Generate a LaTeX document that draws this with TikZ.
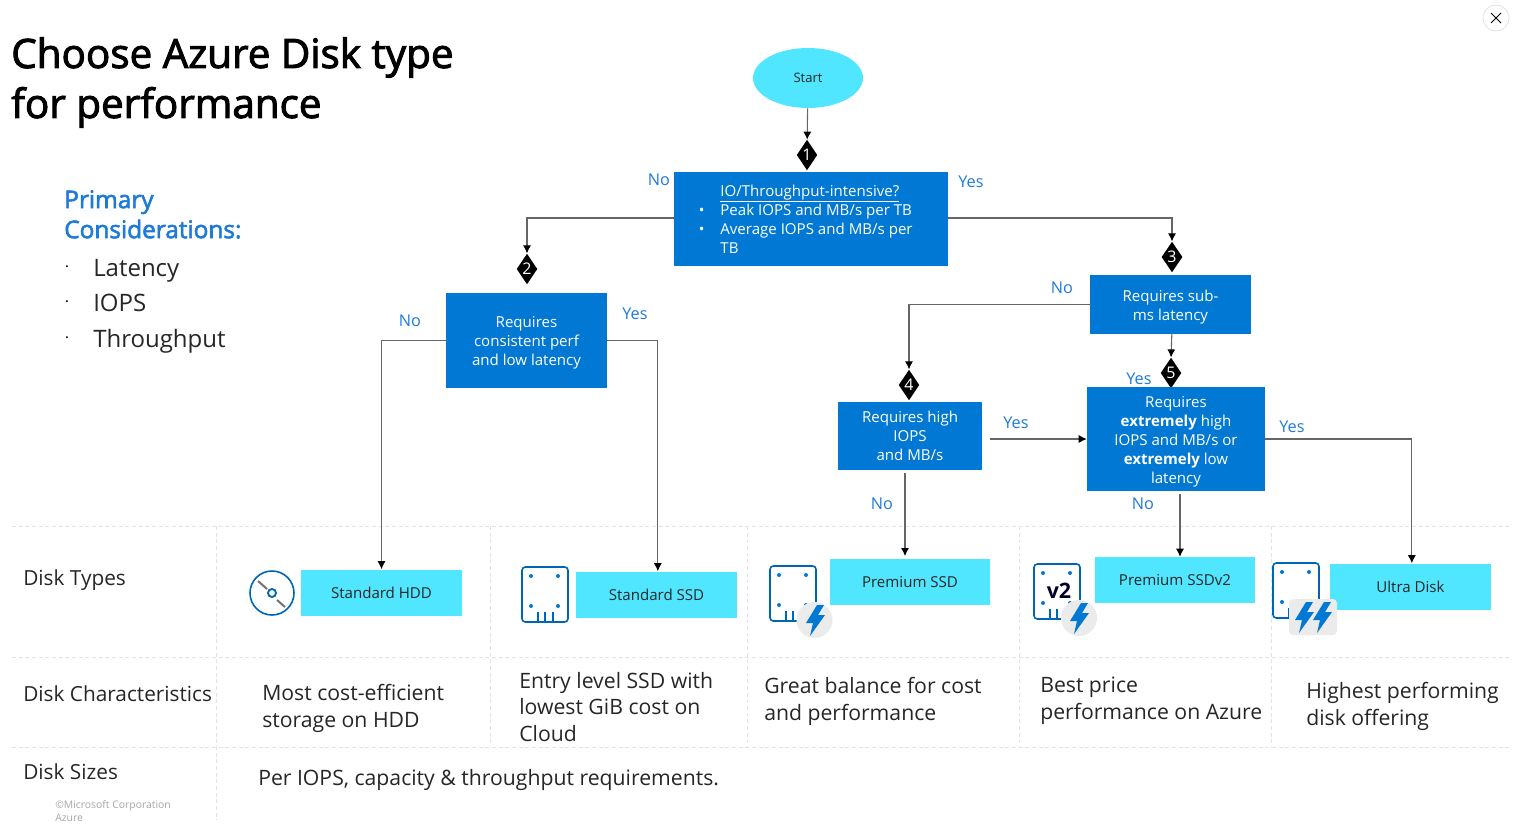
\documentclass[tikz,border=0pt]{standalone}
\usepackage{fontspec}
\setmainfont{Open Sans}
\newfontfamily\semifont[FakeBold=2.4]{Open Sans}
\usetikzlibrary{shapes.geometric,arrows.meta}
\definecolor{azblue}{HTML}{0078D4}
\definecolor{azcyan}{HTML}{50E6FF}
\definecolor{lblblue}{HTML}{1E7AD8}
\definecolor{sepgray}{HTML}{E3E3E3}
\newcommand{\fs}[2]{\fontsize{#1}{#2}\selectfont}
\newcommand{\qplain}[1]{\hspace*{8.25pt}#1}
\newcommand{\qitem}[1]{\hspace*{8.25pt}\llap{\textbullet\hspace{12pt}}#1}
\newcommand{\qtop}{\rule{0pt}{12pt}}
\tikzset{
    qbox/.style={fill=azblue,text=white,align=center,inner sep=0pt,font=\fs{11.3}{14.25}},
    tbox/.style={fill=azcyan,text=black!85,align=center,inner sep=0pt,minimum width=120.5pt,minimum height=34.5pt,font=\fs{11.3}{14}},
    dia/.style={diamond,fill=black,text=white,inner sep=0pt,minimum width=15pt,minimum height=23pt,font=\fs{12}{12}},
    yn/.style={text=lblblue,inner sep=0pt,font=\fs{12.2}{14}},
    big/.style={anchor=west,inner sep=0pt,align=left,text=black!85,font=\fs{15.9}{20.2}},
    lbl/.style={big,font=\fs{15.6}{20}},
    flow/.style={draw=black!60,line width=0.8pt,-{Latex[color=black,length=6pt,width=6pt]}},
    sep/.style={draw=sepgray,line width=0.6pt,densely dashed},
    icon/.style={draw=azblue!85!black,line width=1.2pt},
    ssdicon/.pic={
        \draw[icon,rounded corners=2.5pt] (0,0) rectangle (46,55);
        \foreach \px/\py in {9/9,36/9,9/39,36/39}
            \fill[azblue] (\px,\py) circle (2);
        \foreach \px in {16,23,31}
            \draw[icon,line width=0.9pt] (\px,45) -- (\px,55);
    },
    boltshape/.pic={
        \fill[azblue] (2,-15) -- (-9,3) -- (-2,3) -- (-5,16) -- (10,-5) -- (3,-5) -- (9,-15) -- cycle;
    },
}
\begin{document}
\begin{tikzpicture}[x=0.75pt,y=-0.75pt]
    \useasboundingbox (0,0) rectangle (1513,831);
    \node[anchor=north west,inner sep=0pt,align=left,font=\semifont\fs{30.3}{37.5},text=black] (title) at (11,37) {Choose Azure Disk type\\for performance};
    \node[anchor=north west,inner sep=0pt,align=left,font=\semifont\fs{18.3}{22.5},text=lblblue] (primary) at (64,190) {Primary\\Considerations:};
    \foreach \nm/\txt/\y in {lat/Latency/276,iops/IOPS/311,thr/Throughput/347} {
        \node[anchor=base west,inner sep=0pt,text=black!85,font=\fs{18}{22}] (\nm) at (93,\y) {\txt};
        \node[inner sep=0pt,font=\fs{14}{14}] (dot\nm) at (67,\y-9) {$\cdot$};
    }
    \draw[draw=black!15,fill=white] (1496,18) circle (13);
    \draw[black,line width=0.7pt] (1491,13) -- (1501,23) (1501,13) -- (1491,23);

    \foreach \y in {526,657,747}
        \draw[sep] (12,\y) -- (1510,\y);
    \draw[sep] (216,526) -- (216,820);
    \foreach \x in {490,747,1019,1271}
        \draw[sep] (\x,526) -- (\x,747);

    \node[ellipse,fill=azcyan,minimum width=82.5pt,minimum height=45pt,inner sep=0pt,text=black!85,font=\fs{9.8}{12}] (start) at (808,78) {Start};
    \foreach \n/\x/\y in {1/807/155,2/527/269,3/1172/257,4/909/385,5/1171/373}
        \node[dia] (d\n) at (\x,\y) {\n};

    \node[qbox,align=left,minimum width=205.5pt,minimum height=70.5pt] (q1) at (811,219) {\qplain{\underline{IO/Throughput-intensive?}}\\\qitem{Peak IOPS and MB/s per TB}\\\qitem{Average IOPS and MB/s per}\\\qplain{TB}};
    \node[qbox,minimum width=120.5pt,minimum height=71pt] (q2) at (526.5,340.5) {\qtop Requires\\consistent perf\\and low latency};
    \node[qbox,minimum width=120.5pt,minimum height=44pt] (q3) at (1170.5,304.5) {\qtop Requires sub-\\ms latency};
    \node[qbox,minimum width=108pt,minimum height=51pt] (q4) at (910,436) {Requires high\\IOPS\\and MB/s};
    \node[qbox,minimum width=133.5pt,minimum height=78pt] (q5) at (1176,439) {\qtop Requires\\\textbf{extremely} high\\IOPS and MB/s or\\\textbf{extremely} low\\latency};

    \node[tbox] (hdd) at (381.5,592.5) {Standard HDD};
    \node[tbox] (ssd) at (656.5,594.5) {Standard SSD};
    \node[tbox] (prem) at (910,582) {Premium SSD};
    \node[tbox] (pv2) at (1175,580) {Premium SSDv2};
    \node[tbox] (ultra) at (1410.5,586.5) {Ultra Disk};

    \draw[flow] (start) -- (d1);
    \draw[flow] ([yshift=0.75pt]q1.west) -| (d2.north);
    \draw[flow] ([yshift=0.75pt]q1.east) -| (d3.north);
    \draw[flow] (q3.west) -| (d4.north);
    \draw[flow] ([xshift=1pt]q3.south) -- (d5.north);
    \draw[flow] (q2.west) -| (hdd.north);
    \draw[flow] (q2.east) -| ([xshift=1pt]ssd.north);
    \draw[flow] ([xshift=-3.75pt,yshift=-2pt]q4.south) -- ([xshift=-3.75pt,yshift=2pt]prem.north);
    \draw[flow] ([xshift=6pt]q4.east |- q5.west) -- (q5.west);
    \draw[flow] ([xshift=3pt,yshift=-2pt]q5.south) -- ([xshift=3.75pt]pv2.north);
    \draw[flow] (q5.east) -| ([xshift=1pt]ultra.north);

    \foreach \nm/\txt/\x/\y in {n1/No/659/180,y1/Yes/971/182,n2/No/410/321,y2/Yes/635/314,n3/No/1062/288,y5/Yes/1139/379,y4/Yes/1016/423,n4/No/882/504,n5/No/1143/504,y6/Yes/1292/427}
        \node[yn] (\nm) at (\x,\y) {\txt};

    \draw[icon] (272,593) circle (22);
    \draw[icon,line width=1.4pt] (272,593) circle (4);
    \draw[black!55,line width=1.5pt] (258,581) -- (267,589) (277,600) -- (285,607);
    \pic at (522,567) {ssdicon};
    \pic at (770,566) {ssdicon};
    \pic at (1034,564) {ssdicon};
    \pic at (1273,563) {ssdicon};
    \node[inner sep=0pt,text=black!85!blue,font=\bfseries\fs{16}{16}] (vtwo) at (1059,591) {v2};
    \fill[black!8] (814.5,620) circle (18);
    \fill[black!8] (1079,618) circle (18);
    \fill[black!8,rounded corners=3pt] (1289,599) rectangle (1337,635);
    \pic at (815,620) {boltshape};
    \pic at (1079,618) {boltshape};
    \pic at (1304,617) {boltshape};
    \pic at (1322,617) {boltshape};

    \node[lbl] (ltype) at (23,580) {Disk Types};
    \node[lbl] (lchar) at (23,694) {Disk Characteristics};
    \node[lbl] (lsize) at (23,772) {Disk Sizes};
    \node[big] (c1) at (262,708) {Most cost-efficient\\storage on HDD};
    \node[big] (c2) at (519,707) {Entry level SSD with\\lowest GiB cost on\\Cloud};
    \node[big] (c3) at (764,701) {Great balance for cost\\and performance};
    \node[big] (c4) at (1040,701) {Best price\\performance on Azure};
    \node[big] (c5) at (1306,706.5) {Highest performing\\disk offering};
    \node[big] (sizes) at (258,780) {Per IOPS, capacity \& throughput requirements.};
    \node[anchor=north west,inner sep=0pt,align=left,text=black!35,font=\fs{7.8}{9.6}] (copy) at (55,800) {©Microsoft Corporation\\Azure};
\end{tikzpicture}
\end{document}
